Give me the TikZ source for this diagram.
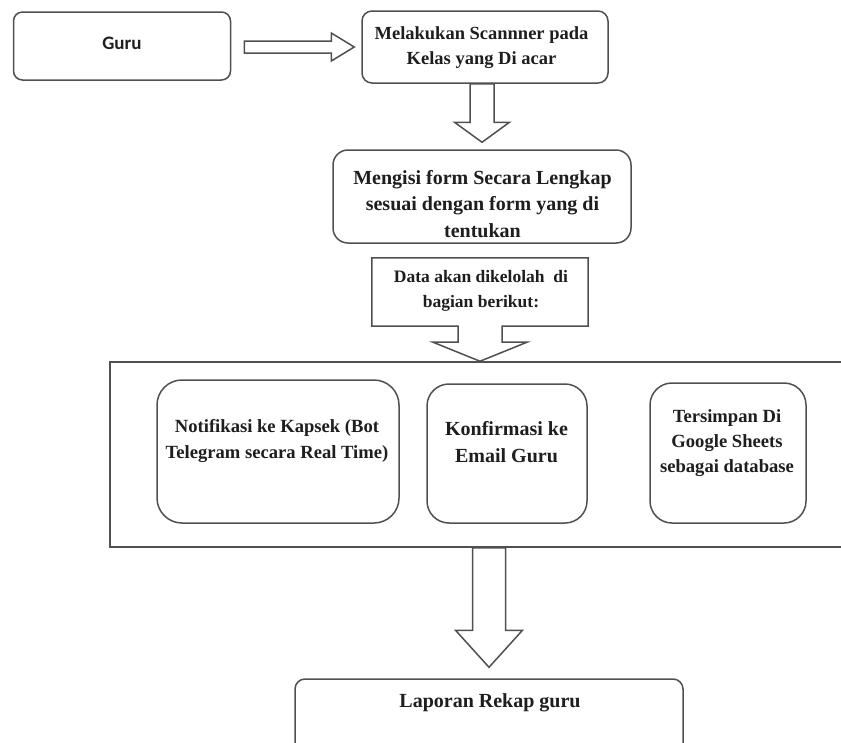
\documentclass[tikz,border=0pt]{standalone}
\usepackage{fontspec}
\setmainfont{Liberation Serif}
\newfontfamily\gurufont{Carlito}
\usetikzlibrary{calc}
\definecolor{edge}{HTML}{505050}
\definecolor{ink}{HTML}{1E1E1E}
\begin{document}
\begin{tikzpicture}[x=1pt,y=-1pt,
  box/.style={draw=edge, line width=1.5pt, fill=white, rounded corners=#1, inner sep=0pt},
  box/.default=10pt,
  plainbox/.style={draw=edge, line width=1.5pt, inner sep=0pt},
  txt/.style={text=ink, align=center, inner sep=0pt},
  barrow/.style={draw=edge, line width=1.5pt, fill=white, line join=miter}]
\useasboundingbox (0,0) rectangle (841,742);
\fill[white] (0,0) rectangle (841,742);

% boxes
\node[box=9pt, minimum width=217pt, minimum height=68pt] (guru) at (122,46) {};
\node[txt, font=\gurufont\bfseries\fontsize{19}{23}\selectfont] (guruT) at (122,43) {Guru};

\node[box=10pt, minimum width=246pt, minimum height=72pt] (scan) at (485,47) {};
\node[txt, font=\bfseries\fontsize{18.5}{25}\selectfont] (scanT) at (481.5,48) {Melakukan Scannner pada\\Kelas yang Di acar};

\node[box=15pt, minimum width=298pt, minimum height=93pt] (isi) at (482,196.5) {};
\node[txt, font=\bfseries\fontsize{20}{26.5}\selectfont] (isiT) at (482.5,204) {Mengisi form Secara Lengkap\\sesuai dengan form yang di\\tentukan};

\node[plainbox, minimum width=770pt, minimum height=185pt] (cont) at (495,454.5) {};

\node[inner sep=0pt, minimum width=216pt, minimum height=68pt] (data) at (480,292) {};
\coordinate (tip) at (data.south |- cont.north);
\draw[barrow] (data.north west) -- (data.north east) -- (data.south east)
  -- ($(data.south)+(22,0)$) -- ($(data.south)+(22,16)$) -- ($(data.south)+(47,16)$)
  -- (tip) -- ($(data.south)+(-47,16)$) -- ($(data.south)+(-22,16)$)
  -- ($(data.south)+(-22,0)$) -- (data.south west) -- cycle;
\node[txt, font=\bfseries\fontsize{17.5}{25}\selectfont] (dataT) at (481,291) {Data akan dikelolah~ di\\bagian berikut:};

\node[box=25pt, minimum width=242pt, minimum height=143pt] (b1) at (278,451.5) {};
\node[txt, font=\bfseries\fontsize{18.6}{26}\selectfont] (b1T) at (277,441) {Notifikasi ke Kapsek (Bot\\Telegram secara Real Time)};

\node[box=22pt, minimum width=160pt, minimum height=139pt] (b2) at (507,453.5) {};
\node[txt, font=\bfseries\fontsize{20}{27}\selectfont] (b2T) at (506.5,442) {Konfirmasi ke\\Email Guru};

\node[box=22pt, minimum width=156pt, minimum height=140pt] (b3) at (728,453) {};
\node[txt, font=\bfseries\fontsize{18.6}{25}\selectfont] (b3T) at (727,443) {Tersimpan Di\\Google Sheets\\sebagai database};

\node[box=10pt, minimum width=388pt, minimum height=90pt] (lap) at (489,724) {};
\node[txt, font=\bfseries\fontsize{20}{24}\selectfont] (lapT) at (490,703) {Laporan Rekap guru};

% block arrows
\coordinate (r1s) at ($(guru.east)+(13,1)$);
\coordinate (r1e) at ($(r1s -| scan.west)+(-7,0)$);
\draw[barrow] ($(r1s)+(0,-6)$) -- ($(r1e)+(-23,-6)$) -- ($(r1e)+(-23,-14)$) -- (r1e)
  -- ($(r1e)+(-23,14)$) -- ($(r1e)+(-23,6)$) -- ($(r1s)+(0,6)$) -- cycle;

\coordinate (d1s) at (isi.north |- scan.south);
\coordinate (d1e) at ($(isi.north)+(0,-7)$);
\draw[barrow] ($(d1s)+(-12,0)$) -- ($(d1e)+(-12,-20)$) -- ($(d1e)+(-27.5,-20)$) -- (d1e)
  -- ($(d1e)+(27.5,-20)$) -- ($(d1e)+(12,-20)$) -- ($(d1s)+(12,0)$) -- cycle;

\coordinate (d2s) at (lap.north |- cont.south);
\coordinate (d2e) at ($(lap.north)+(0,-11)$);
\draw[barrow] ($(d2s)+(-16.5,0)$) -- ($(d2e)+(-16.5,-37)$) -- ($(d2e)+(-33.5,-37)$) -- (d2e)
  -- ($(d2e)+(33.5,-37)$) -- ($(d2e)+(16.5,-37)$) -- ($(d2s)+(16.5,0)$) -- cycle;
\end{tikzpicture}
\end{document}
